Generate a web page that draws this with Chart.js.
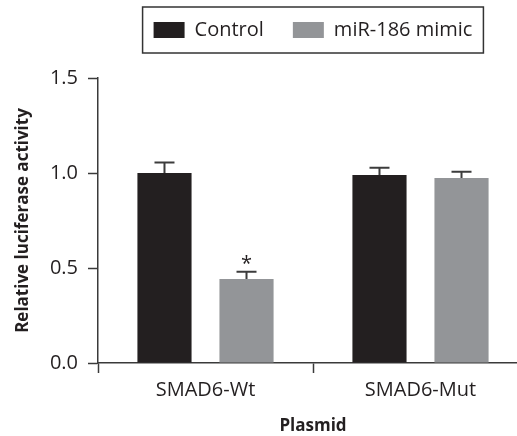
<!DOCTYPE html>
<html>
<head>
<meta charset="utf-8">
<script src="https://cdn.jsdelivr.net/npm/chart.js@4"></script>
<style>
  html, body { margin: 0; padding: 0; background: #fff; }
  /* plot runs a little past the right edge in the original figure */
  #wrap { width: 517px; height: 436px; overflow: hidden; }
</style>
</head>
<body>
<div id="wrap">
  <canvas id="lucChart" width="530" height="436"></canvas>
</div>
<script>
// ===== data =====
const plasmids = ["SMAD6-Wt", "SMAD6-Mut"];
const controlValues = [1.0, 0.99];
const controlErrors = [0.055, 0.038];
const mimicValues = [0.442, 0.974];
const mimicErrors = [0.038, 0.033];
const significance = ["", ""];
const mimicSignificance = ["*", ""];
const yTicks = [0, 0.5, 1.0, 1.5];

const FONT = "'Open Sans', 'Noto Sans', sans-serif";
const INK = "#231f20";
const AXIS = "#3a3a3a";

// error bars + asterisk
const errorBarPlugin = {
  id: "errorBars",
  afterDatasetsDraw(chart) {
    const ctx = chart.ctx;
    const y = chart.scales.y;
    const errs = [controlErrors, mimicErrors];
    const marks = [significance, mimicSignificance];
    chart.data.datasets.forEach((ds, di) => {
      const meta = chart.getDatasetMeta(di);
      meta.data.forEach((bar, i) => {
        const top = y.getPixelForValue(ds.data[i] + errs[di][i]);
        ctx.save();
        ctx.strokeStyle = "#3c3c3c";
        ctx.lineWidth = 2;
        ctx.beginPath();
        ctx.moveTo(bar.x, bar.y);
        ctx.lineTo(bar.x, top);
        ctx.moveTo(bar.x - 10, top);
        ctx.lineTo(bar.x + 10, top);
        ctx.stroke();
        if (marks[di][i]) {
          ctx.fillStyle = INK;
          ctx.font = "20px " + FONT;
          ctx.textAlign = "center";
          ctx.textBaseline = "alphabetic";
          ctx.fillText(marks[di][i], bar.x, top - 2);
        }
        ctx.restore();
      });
    });
  },
};

// frame around the legend
const legendBoxPlugin = {
  id: "legendBox",
  afterDraw(chart) {
    const boxes = chart.legend && chart.legend.legendHitBoxes;
    if (!boxes || !boxes.length) return;
    const left = Math.min(...boxes.map((b) => b.left)) - 11;
    const right = Math.max(...boxes.map((b) => b.left + b.width)) + 11;
    const mid = boxes[0].top + boxes[0].height / 2;
    const ctx = chart.ctx;
    ctx.save();
    ctx.strokeStyle = "#333";
    ctx.lineWidth = 1.5;
    ctx.strokeRect(left, mid - 23, right - left, 46);
    ctx.restore();
  },
};

new Chart(document.getElementById("lucChart"), {
  type: "bar",
  data: {
    labels: plasmids,
    datasets: [
      {
        label: "Control",
        data: controlValues,
        backgroundColor: INK,
        categoryPercentage: 0.763,
        barPercentage: 0.66,
      },
      {
        label: "miR-186 mimic",
        data: mimicValues,
        backgroundColor: "#939598",
        categoryPercentage: 0.763,
        barPercentage: 0.66,
      },
    ],
  },
  options: {
    responsive: false,
    animation: false,
    layout: { padding: { left: 0, right: 2, top: -9, bottom: 0 } },
    plugins: {
      tooltip: { enabled: false },
      legend: {
        position: "top",
        weight: 3000,
        fullSize: false,
        labels: {
          boxWidth: 31,
          boxHeight: 16,
          padding: 29,
          color: INK,
          font: { family: FONT, size: 20 },
        },
      },
      // empty title used only as a spacer under the legend
      title: {
        display: true,
        text: "",
        font: { size: 10, lineHeight: 1 },
        padding: { top: 0, bottom: 18 },
      },
    },
    scales: {
      x: {
        offset: true,
        grid: {
          offset: true,
          drawOnChartArea: false,
          tickLength: 10,
          tickWidth: 1.5,
          tickColor: AXIS,
        },
        border: { color: AXIS, width: 1.5 },
        ticks: { color: INK, font: { family: FONT, size: 20 }, padding: 5 },
        title: {
          display: true,
          text: "Plasmid",
          color: INK,
          font: { family: FONT, size: 17, weight: "bold" },
          padding: { top: 4, bottom: 0 },
        },
        afterFit: (s) => { s.height = 73; },
      },
      y: {
        min: 0,
        max: 1.5,
        afterBuildTicks: (s) => { s.ticks = yTicks.map((v) => ({ value: v })); },
        grid: {
          drawOnChartArea: false,
          tickLength: 10,
          tickWidth: 1.5,
          tickColor: AXIS,
        },
        border: { color: AXIS, width: 1.5 },
        ticks: {
          color: INK,
          font: { family: FONT, size: 20 },
          padding: 10,
          callback: (v) => Number(v).toFixed(1),
        },
        title: {
          display: true,
          text: "Relative luciferase activity",
          color: INK,
          font: { family: FONT, size: 17, weight: "bold" },
          padding: { top: 13, bottom: 2 },
        },
        afterFit: (s) => { s.width = 98; },
      },
    },
  },
  plugins: [errorBarPlugin, legendBoxPlugin],
});
</script>
</body>
</html>
